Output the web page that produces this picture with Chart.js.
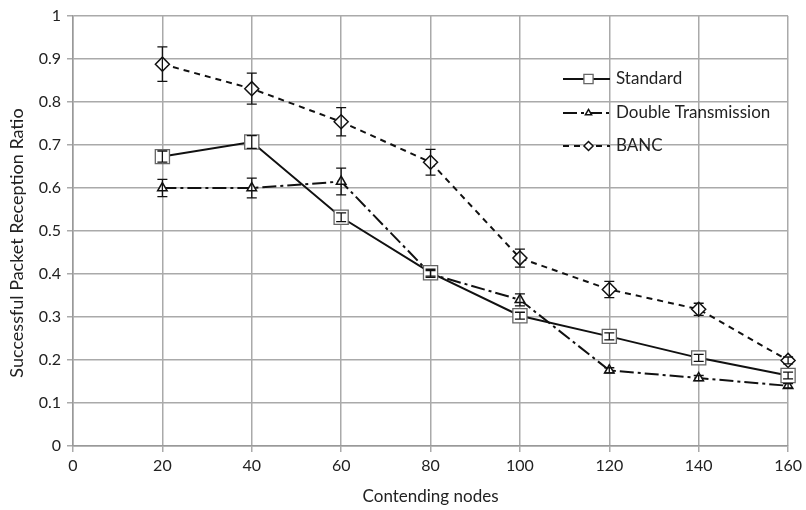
<!DOCTYPE html>
<html>
<head>
<meta charset="utf-8">
<script src="https://cdn.jsdelivr.net/npm/chart.js@4/dist/chart.umd.min.js"></script>
<style>
  html, body { margin: 0; padding: 0; background: #fff; }
  #wrap { width: 806px; height: 510px; }
</style>
</head>
<body>
<div id="wrap"><canvas id="chart" width="806" height="510"></canvas></div>
<script>
// values
const nodes = [20, 40, 60, 80, 100, 120, 140, 160];
const standard = [0.673, 0.707, 0.532, 0.403, 0.303, 0.255, 0.205, 0.164];
const standardErr = [0.013, 0.015, 0.01, 0.008, 0.008, 0.008, 0.008, 0.008];
const doubleTx = [0.600, 0.600, 0.615, 0.400, 0.340, 0.176, 0.158, 0.140];
const doubleTxErr = [0.02, 0.023, 0.031, 0.008, 0.014, 0.006, 0.006, 0.005];
const banc = [0.888, 0.831, 0.754, 0.660, 0.437, 0.364, 0.318, 0.199];
const bancErr = [0.04, 0.036, 0.033, 0.03, 0.021, 0.019, 0.014, 0.008];
const labels = ['Standard', 'Double Transmission', 'BANC'];
const yTitle = 'Successful Packet Reception Ratio';
const xTitle = 'Contending nodes';

const FONT = 'Lato, "Open Sans", sans-serif';

function pts(ys) {
  return nodes.map((x, i) => ({ x: x, y: ys[i] }));
}

const series = [
  { label: labels[0], data: pts(standard), err: standardErr, dash: [], style: 'rect', radius: 10, edge: '#666', bw: 1.3 },
  { label: labels[1], data: pts(doubleTx), err: doubleTxErr, dash: [14, 4, 3, 4], style: 'triangle', radius: 5.5, edge: '#111', bw: 1.5 },
  { label: labels[2], data: pts(banc), err: bancErr, dash: [6, 5], style: 'rectRot', radius: 7, edge: '#111', bw: 1.5 }
];

// error bars with caps, drawn through the scales
const errorBars = {
  id: 'errorBars',
  afterDatasetsDraw(chart) {
    const { ctx, scales: { x, y } } = chart;
    ctx.save();
    ctx.strokeStyle = '#111';
    ctx.lineWidth = 1.3;
    ctx.setLineDash([]);
    series.forEach(s => {
      s.data.forEach((p, i) => {
        const px = x.getPixelForValue(p.x);
        const top = y.getPixelForValue(p.y + s.err[i]);
        const bot = y.getPixelForValue(p.y - s.err[i]);
        ctx.beginPath();
        ctx.moveTo(px, top); ctx.lineTo(px, bot);
        ctx.moveTo(px - 5, top); ctx.lineTo(px + 5, top);
        ctx.moveTo(px - 5, bot); ctx.lineTo(px + 5, bot);
        ctx.stroke();
      });
    });
    ctx.restore();
  }
};

// legend inside the plot (top right) plus the axis titles
const extras = {
  id: 'extras',
  afterDraw(chart) {
    const { ctx, chartArea } = chart;
    const x0 = 563, x1 = 610, tx = 616;
    const rows = [79, 113, 146];
    ctx.save();
    series.forEach((s, i) => {
      const yy = rows[i];
      ctx.strokeStyle = '#111';
      ctx.lineWidth = 2;
      ctx.setLineDash(s.dash);
      ctx.beginPath();
      ctx.moveTo(x0, yy); ctx.lineTo(x1, yy);
      ctx.stroke();
      ctx.setLineDash([]);
      ctx.fillStyle = '#fff';
      ctx.strokeStyle = s.edge;
      ctx.lineWidth = s.bw;
      Chart.helpers.drawPoint(ctx, { pointStyle: s.style, radius: s.radius * 0.65, rotation: 0, borderWidth: s.bw }, (x0 + x1) / 2 + 2, yy);
      ctx.fillStyle = '#222';
      ctx.font = '17px ' + FONT;
      ctx.textAlign = 'left';
      ctx.textBaseline = 'middle';
      ctx.fillText(s.label, tx, yy);
    });

    ctx.fillStyle = '#222';
    ctx.textAlign = 'center';
    ctx.textBaseline = 'middle';
    ctx.font = '17px ' + FONT;
    ctx.fillText(xTitle, (chartArea.left + chartArea.right) / 2, 497);
    ctx.font = '18px ' + FONT;
    ctx.translate(17, 243);
    ctx.rotate(-Math.PI / 2);
    ctx.fillText(yTitle, 0, 0);
    ctx.restore();
  }
};

new Chart(document.getElementById('chart'), {
  type: 'line',
  data: {
    datasets: series.map(s => ({
      label: s.label,
      data: s.data,
      borderColor: '#111',
      borderWidth: 2,
      borderDash: s.dash,
      fill: false,
      tension: 0,
      clip: false,
      pointStyle: s.style,
      pointRadius: s.radius,
      pointBackgroundColor: '#fff',
      pointBorderColor: s.edge,
      pointBorderWidth: s.bw
    }))
  },
  options: {
    responsive: false,
    animation: false,
    layout: { padding: { top: 16, right: 17, left: 0, bottom: 0 } },
    plugins: { legend: { display: false }, tooltip: { enabled: false } },
    scales: {
      x: {
        type: 'linear',
        min: 0, max: 160,
        ticks: { stepSize: 20, color: '#222', font: { family: FONT, size: 16 }, padding: 4 },
        grid: { color: '#aaa', lineWidth: 1.5, tickLength: 6 },
        border: { color: '#999', width: 1.5 },
        afterFit(scale) { scale.height = 64; }
      },
      y: {
        min: 0, max: 1,
        ticks: {
          stepSize: 0.1, color: '#222', font: { family: FONT, size: 16 }, padding: 6,
          callback: v => String(Number(v.toFixed(1)))
        },
        grid: { color: '#aaa', lineWidth: 1.5, tickLength: 6 },
        border: { color: '#999', width: 1.5 },
        afterFit(scale) { scale.width = 73; }
      }
    }
  },
  plugins: [errorBars, extras]
});
</script>
</body>
</html>
